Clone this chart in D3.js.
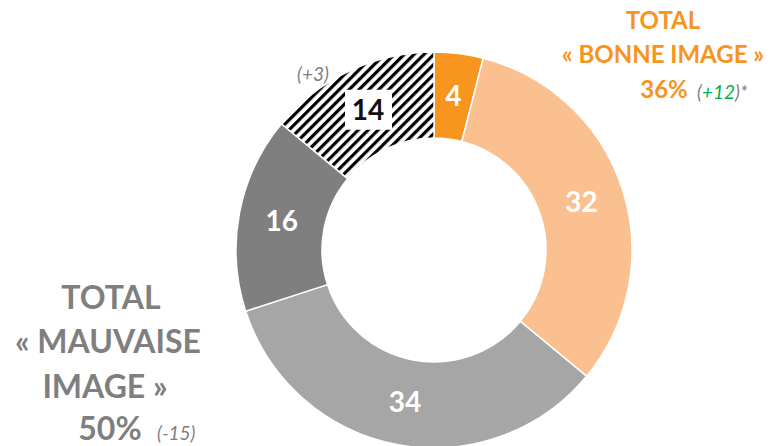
<!DOCTYPE html>
<html>
<head>
<meta charset="utf-8">
<script src="https://cdn.jsdelivr.net/npm/d3@7"></script>
<style>
  html, body { margin: 0; padding: 0; background: #fff; }
  svg { display: block; font-family: Lato, "Open Sans", sans-serif; }
</style>
</head>
<body>
<svg id="chart" width="773" height="446"></svg>
<script>
// Opinion shares (%), clockwise from 12 o'clock
const categories = ["Très bonne image", "Plutôt bonne image", "Plutôt mauvaise image", "Très mauvaise image", "Sans opinion"];
const values = [4, 32, 34, 16, 14];
const fills = ["#F7951F", "#FAC090", "#A6A6A6", "#7F7F7F", "url(#hatch)"];
const labelColors = ["#fff", "#fff", "#fff", "#fff", "#111"];

// Group totals and changes
const goodTotal = "36%";
const goodChange = "+12";
const badTotal = "50%";
const badChange = "-15";
const neutralChange = "+3";

const svg = d3.select("#chart");
const cx = 434, cy = 250, rOuter = 198, rInner = 112;

// Diagonal stripe pattern for the undecided share
const defs = svg.append("defs");
const pat = defs.append("pattern")
  .attr("id", "hatch")
  .attr("patternUnits", "userSpaceOnUse")
  .attr("width", 7).attr("height", 7)
  .attr("patternTransform", "rotate(45)");
pat.append("rect").attr("width", 7).attr("height", 7).attr("fill", "#fff");
pat.append("rect").attr("x", 0).attr("y", 0).attr("width", 3.2).attr("height", 7).attr("fill", "#000");

const pie = d3.pie().sort(null).value(d => d);
const arcs = pie(values);
const arc = d3.arc().innerRadius(rInner).outerRadius(rOuter);
const mid = d3.arc().innerRadius(155).outerRadius(155);

const g = svg.append("g").attr("transform", `translate(${cx},${cy})`);

g.selectAll("path.slice")
  .data(arcs)
  .join("path")
  .attr("class", "slice")
  .attr("d", arc)
  .attr("fill", (d, i) => fills[i])
  .attr("stroke", "#fff")
  .attr("stroke-width", 1.5);

// White box behind the label on the striped slice
const c14 = mid.centroid(arcs[4]);
g.append("rect")
  .attr("x", c14[0] - 23).attr("y", c14[1] - 20)
  .attr("width", 47).attr("height", 40)
  .attr("fill", "#fff");

g.selectAll("text.val")
  .data(arcs)
  .join("text")
  .attr("class", "val")
  .attr("transform", d => `translate(${mid.centroid(d)})`)
  .attr("text-anchor", "middle")
  .attr("dy", "0.36em")
  .attr("font-size", 28)
  .attr("font-weight", 700)
  .attr("fill", (d, i) => labelColors[i])
  .text(d => d.data);

// Group annotations
const orange = "#F7941D", grey = "#7F7F7F", green = "#00B050";

const good = svg.append("g").attr("font-weight", 700).attr("fill", orange).attr("font-size", 24);
good.append("text").attr("x", 663).attr("y", 29).attr("text-anchor", "middle").text("TOTAL");
good.append("text").attr("x", 663).attr("y", 63).attr("text-anchor", "middle").text("« BONNE IMAGE »");
good.append("text").attr("x", 664).attr("y", 98).attr("text-anchor", "middle").text(goodTotal);
const gc = svg.append("text").attr("x", 697).attr("y", 99)
  .attr("font-size", 19).attr("font-style", "italic").attr("fill", grey);
gc.append("tspan").text("(");
gc.append("tspan").attr("fill", green).text(goodChange);
gc.append("tspan").text(")*");

const bad = svg.append("g").attr("font-weight", 700).attr("fill", grey).attr("font-size", 32).attr("text-anchor", "middle");
bad.append("text").attr("x", 111).attr("y", 309).text("TOTAL");
bad.append("text").attr("x", 108).attr("y", 353).text("« MAUVAISE");
bad.append("text").attr("x", 105).attr("y", 398).text("IMAGE »");
bad.append("text").attr("x", 110).attr("y", 440).text(badTotal);
svg.append("text").attr("x", 157).attr("y", 440)
  .attr("font-size", 19).attr("font-style", "italic").attr("fill", grey)
  .text(`(${badChange})`);

svg.append("text").attr("x", 297).attr("y", 81)
  .attr("font-size", 19).attr("font-style", "italic").attr("fill", grey)
  .text(`(${neutralChange})`);
</script>
</body>
</html>
